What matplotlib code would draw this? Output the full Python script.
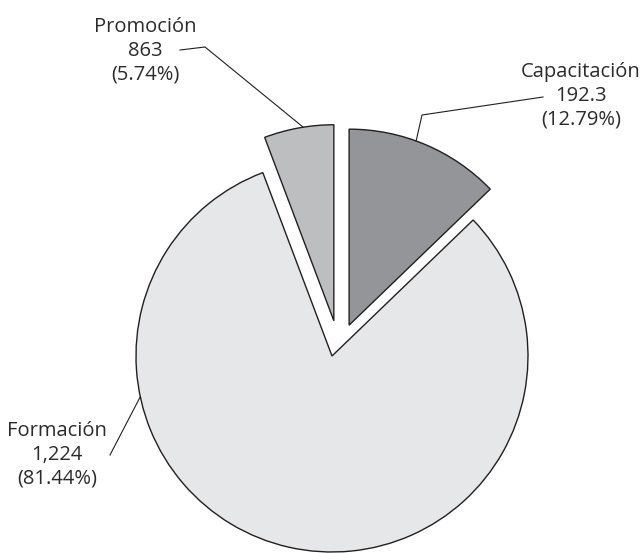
import matplotlib
matplotlib.use("Agg")
import matplotlib.pyplot as plt
import numpy as np

labels = ["Capacitación", "Formación", "Promoción"]
values = ["192.3", "1,224", "863"]
shares = [12.79, 81.44, 5.74]
colors = ["#939598", "#e6e7e8", "#bcbec0"]
explode = [0.18, 0.0, 0.18]  # fraction of the radius
explode_dir = [61, 0, 87]    # direction of the pull-out, degrees

# layout in pixel units (y up)
W, H = 642, 553
center = (332, 197)
radius = 196
text_pos = {"Capacitación": (581, 457), "Formación": (57, 98), "Promoción": (145, 502)}
# leader: text end, elbow (or None), angle on the wedge rim
leaders = {
    "Capacitación": ((543, 456), (422, 438), 70),
    "Formación": ((110, 98), None, 192),
    "Promoción": ((180, 503), (205, 506), 99),
}

plt.rcParams['font.family'] = ['Open Sans', 'DejaVu Sans']

fig = plt.figure(figsize=(W / 100, H / 100), dpi=100)
ax = fig.add_axes([0, 0, 1, 1])
wedges, _ = ax.pie(shares, colors=colors, startangle=90, counterclock=False,
                   radius=radius, center=center,
                   wedgeprops=dict(edgecolor="#231f20", linewidth=1.0))
# pull slices out along the chosen directions
for w, e, d in zip(wedges, explode, explode_dir):
    a = np.deg2rad(d)
    w.set_center((center[0] + e * radius * np.cos(a), center[1] + e * radius * np.sin(a)))
ax.set_xlim(0, W)
ax.set_ylim(0, H)
ax.set_aspect("equal")
ax.axis("off")

for w, lab, val, sh in zip(wedges, labels, values, shares):
    x, y = text_pos[lab]
    ax.text(x, y, f"{lab}\n{val}\n({sh:.2f}%)", ha="center", va="center",
            fontsize=14.5, color="#2b2b2b", linespacing=1.25)
    start, elbow, ang = leaders[lab]
    cx, cy = w.center
    a = np.deg2rad(ang)
    anchor = (cx + w.r * np.cos(a), cy + w.r * np.sin(a))
    pts = [start] + ([elbow] if elbow else []) + [anchor]
    ax.plot([p[0] for p in pts], [p[1] for p in pts], color="#231f20", lw=0.8)

fig.savefig("out.png", dpi=100)
